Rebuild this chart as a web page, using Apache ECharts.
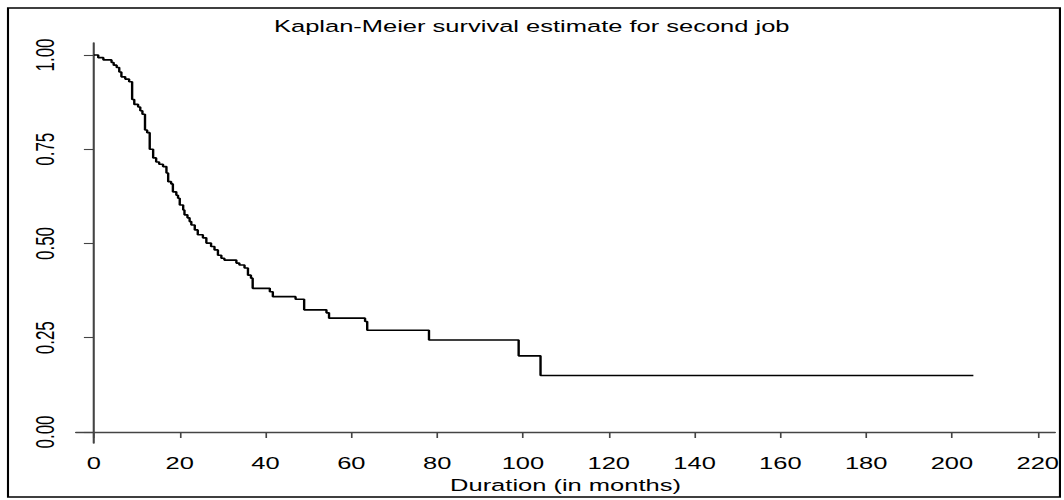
<!DOCTYPE html>
<html>
<head>
<meta charset="utf-8">
<script src="https://cdn.jsdelivr.net/npm/echarts@6/dist/echarts.min.js"></script>
<style>
  html, body { margin: 0; padding: 0; background: #fff; }
  /* the reference is stretched sideways ~1.5x, so draw narrow and stretch */
  #chart {
    width: 709.33px;
    height: 500px;
    transform: scaleX(1.5);
    transform-origin: 0 0;
  }
</style>
</head>
<body>
<div id="chart"></div>
<script>
  // Kaplan-Meier steps: time (months) and survival after the drop
  const months = [0, 1.0, 2.2, 4.1, 4.6, 5.3, 5.9, 6.4, 7.3, 8.2, 8.9, 9.4, 10.3, 10.8, 11.3, 11.9, 12.4, 13.0,
    13.8, 14.5, 15.2, 16.1, 16.9, 17.3, 18.0, 18.4, 19.2, 19.6, 20.0, 20.8, 21.1, 21.8, 22.3, 22.7, 23.5, 24.2,
    25.4, 26.2, 27.3, 28.1, 28.9, 29.7, 30.4, 33.2, 33.9, 35.1, 35.9, 36.6, 37.0, 41.0, 41.7, 47.0, 49.0,
    54.2, 54.8, 63.2, 63.7, 78.1, 99.0, 104.1, 205]
  const survival = [1.000, 0.993, 0.987, 0.980, 0.973, 0.967, 0.955, 0.942, 0.936, 0.929, 0.882, 0.869, 0.862, 0.852,
    0.843, 0.801, 0.794, 0.750, 0.727, 0.716, 0.710, 0.704, 0.687, 0.664, 0.658, 0.637, 0.628, 0.620, 0.602, 0.589,
    0.576, 0.568, 0.558, 0.549, 0.536, 0.523, 0.515, 0.501, 0.492, 0.483, 0.469, 0.461, 0.456, 0.448, 0.443, 0.435,
    0.416, 0.408, 0.381, 0.372, 0.359, 0.352, 0.324, 0.316, 0.302, 0.293, 0.270, 0.244, 0.202, 0.150, 0.150]
  const xTicks = [0, 20, 40, 60, 80, 100, 120, 140, 160, 180, 200, 220]
  const yTicks = [0, 0.25, 0.5, 0.75, 1]

  const font = 'Liberation Sans, Arial, sans-serif'
  const axisColor = '#444'

  const chart = echarts.init(document.getElementById('chart'), null, { renderer: 'svg' })
  const option = {
    animation: false,
    backgroundColor: '#fff',
    title: {
      text: 'Kaplan-Meier survival estimate for second job',
      left: 'center',
      top: 13,
      textStyle: { fontFamily: font, fontSize: 17, fontWeight: 'normal', color: '#000' }
    },
    graphic: [
      {
        type: 'rect',
        shape: { x: 5.33, y: 8, width: 701.3, height: 489 },
        style: { fill: 'none', stroke: '#000', lineWidth: 1.4 }
      }
    ],
    grid: { left: 50.67, right: 4, top: 43, bottom: 57 },
    xAxis: {
      type: 'value',
      min: -4.183,
      max: 224.02,
      name: 'Duration (in months)',
      nameLocation: 'middle',
      nameGap: 34,
      nameTextStyle: { fontFamily: font, fontSize: 17, color: '#000' },
      axisLine: { show: true, lineStyle: { color: axisColor, width: 1.4 } },
      axisTick: { show: true, customValues: xTicks, length: 6, lineStyle: { color: axisColor, width: 1.1 } },
      axisLabel: { customValues: xTicks, fontFamily: font, fontSize: 17, color: '#000', margin: 12 },
      splitLine: { show: false }
    },
    yAxis: {
      type: 'value',
      min: -0.0292,
      max: 1.0318,
      axisLine: { show: true, lineStyle: { color: axisColor, width: 1.4 } },
      axisTick: { show: true, customValues: yTicks, length: 6.7, lineStyle: { color: axisColor, width: 1.1 } },
      axisLabel: {
        customValues: yTicks,
        rotate: 90,
        fontFamily: font,
        fontSize: 17,
        color: '#000',
        margin: 12,
        formatter: v => v.toFixed(2)
      },
      splitLine: { show: false }
    },
    series: [
      {
        type: 'line',
        step: 'end',
        showSymbol: false,
        data: months.map((m, i) => [m, survival[i]]),
        lineStyle: { color: '#000', width: 1.6 }
      }
    ]
  }
  chart.setOption(option)
</script>
</body>
</html>
